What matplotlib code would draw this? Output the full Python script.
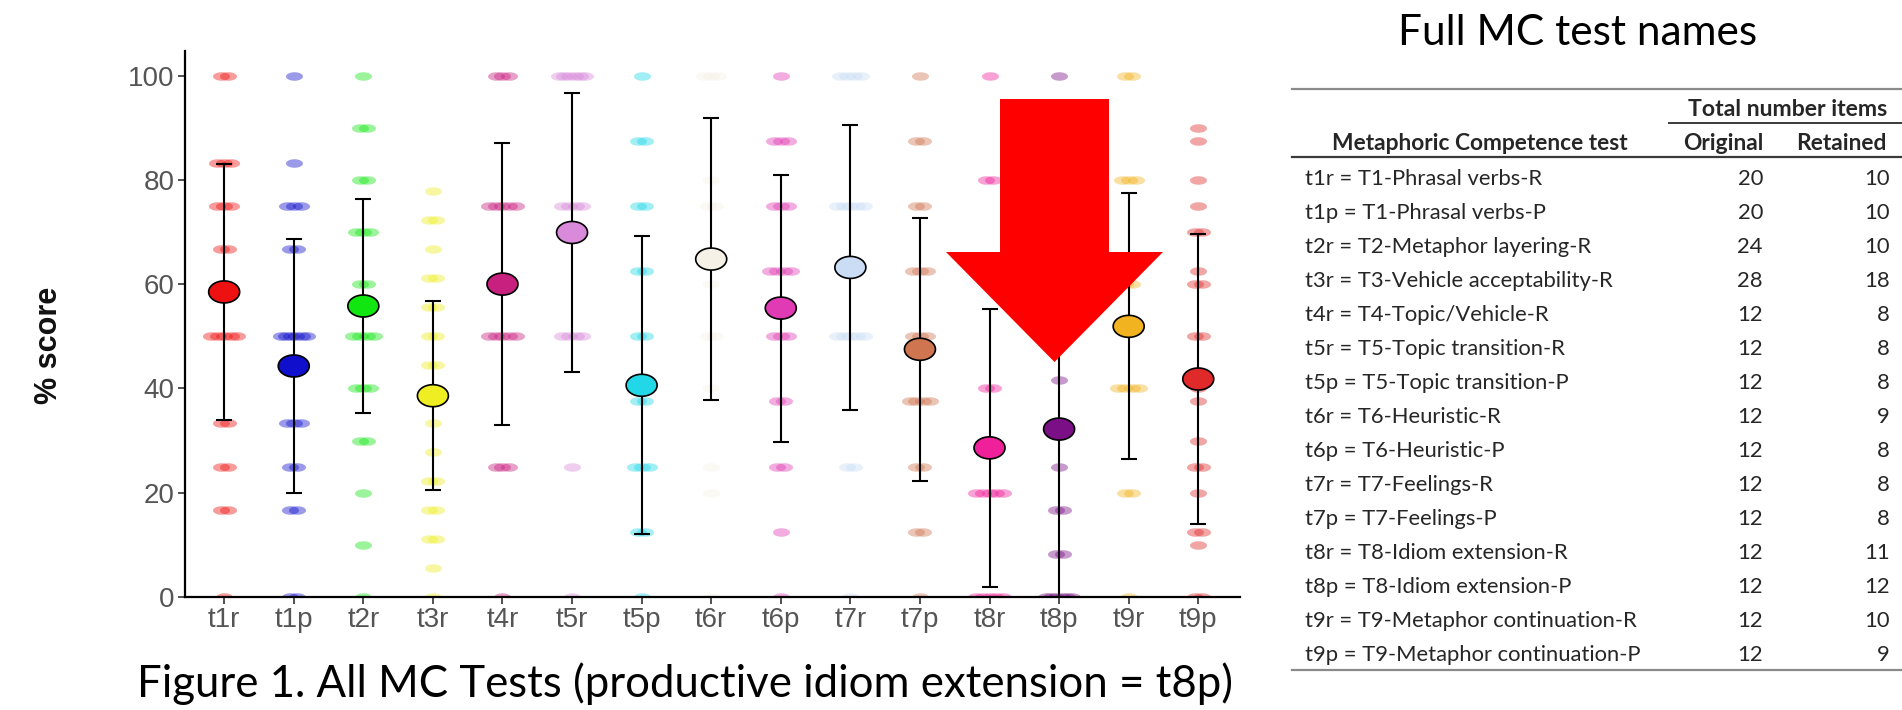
import numpy as np
import matplotlib
matplotlib.use("Agg")
import matplotlib.pyplot as plt
from matplotlib.path import Path
from matplotlib.patches import FancyArrow
from matplotlib.lines import Line2D

# ---------------- data ----------------
tests = ['t1r', 't1p', 't2r', 't3r', 't4r', 't5r', 't5p', 't6r',
         't6p', 't7r', 't7p', 't8r', 't8p', 't9r', 't9p']
mean_score = [58.5, 44.3, 55.8, 38.6, 60.0, 69.9, 40.6, 64.8,
              55.4, 63.2, 47.5, 28.6, 32.2, 51.9, 41.8]
sd_score = [24.6, 24.3, 20.6, 18.1, 27.1, 26.8, 28.6, 27.1,
            25.6, 27.4, 25.2, 26.6, 33.0, 25.5, 27.8]

# individual score levels observed per test and how many participants at each level
dot_levels = [
    [100, 83.3, 75, 66.7, 50, 33.3, 25, 16.7, 0],
    [100, 83.3, 75, 66.7, 50, 33.3, 25, 16.7, 0],
    [100, 90, 80, 70, 60, 50, 40, 30, 20, 10, 0],
    [77.8, 72.2, 66.7, 61.1, 55.6, 50, 44.4, 38.9, 33.3, 27.8, 22.2, 16.7, 11.1, 5.6, 0],
    [100, 75, 50, 25, 0],
    [100, 75, 50, 25, 0],
    [100, 87.5, 75, 62.5, 50, 37.5, 25, 12.5, 0],
    [100, 80, 75, 60, 50, 40, 25, 20, 0],
    [100, 87.5, 75, 62.5, 50, 37.5, 25, 12.5, 0],
    [100, 75, 50, 25, 0],
    [100, 87.5, 75, 62.5, 50, 37.5, 25, 12.5, 0],
    [100, 80, 40, 20, 0],
    [100, 41.7, 25, 16.7, 8.3, 0],
    [100, 80, 60, 40, 20, 0],
    [90, 87.5, 80, 75, 70, 62.5, 60, 50, 40, 37.5, 30, 25, 20, 12.5, 10, 0],
]
dot_counts = [
    [2, 3, 3, 2, 5, 2, 2, 2, 1],
    [1, 1, 3, 2, 6, 3, 2, 2, 2],
    [1, 2, 2, 3, 2, 4, 3, 2, 1, 1, 1],
    [1, 2, 1, 2, 2, 2, 2, 2, 1, 1, 2, 2, 2, 1, 1],
    [3, 5, 5, 3, 1],
    [6, 4, 4, 1, 1],
    [1, 2, 2, 2, 2, 2, 3, 2, 1],
    [3, 1, 2, 1, 2, 1, 1, 1, 1],
    [1, 3, 3, 4, 3, 2, 2, 1, 1],
    [4, 5, 5, 2, 1],
    [1, 2, 2, 3, 3, 4, 2, 2, 1],
    [1, 2, 2, 5, 5],
    [1, 1, 1, 2, 2, 6],
    [2, 3, 2, 4, 2, 1],
    [1, 1, 1, 1, 2, 1, 2, 2, 1, 1, 1, 2, 1, 2, 1, 2],
]
test_colors = ['#EE1111', '#1010CC', '#11E611', '#EEEE22', '#C8207F', '#D98ADB',
               '#22D8E8', '#F6F1E6', '#E03AB4', '#CADDF4', '#CF7550', '#F0209A',
               '#7A0F86', '#F2B320', '#E02A2A']

# table
test_names = ['t1r = T1-Phrasal verbs-R', 't1p = T1-Phrasal verbs-P',
              't2r = T2-Metaphor layering-R', 't3r = T3-Vehicle acceptability-R',
              't4r = T4-Topic/Vehicle-R', 't5r = T5-Topic transition-R',
              't5p = T5-Topic transition-P', 't6r = T6-Heuristic-R',
              't6p = T6-Heuristic-P', 't7r = T7-Feelings-R', 't7p = T7-Feelings-P',
              't8r = T8-Idiom extension-R', 't8p = T8-Idiom extension-P',
              't9r = T9-Metaphor continuation-R', 't9p = T9-Metaphor continuation-P']
items_original = [20, 20, 24, 28, 12, 12, 12, 12, 12, 12, 12, 12, 12, 12, 12]
items_retained = [10, 10, 10, 18, 8, 8, 8, 9, 8, 8, 8, 11, 12, 10, 9]

y_ticks = [0, 20, 40, 60, 80, 100]

# ---------------- figure ----------------
W, H = 1902, 710
fig = plt.figure(figsize=(W / 100, H / 100), dpi=100)


def fx(px):
    return px / W


def fy(py):
    return 1 - py / H


ax = fig.add_axes([fx(184.5), fy(597), (1240 - 184.5) / W, (597 - 51) / H])


def ellipse_marker(ry):
    t = np.linspace(0, 2 * np.pi, 41)
    verts = np.column_stack([np.cos(t), ry * np.sin(t)])
    return Path(verts, closed=True)


dot_marker = ellipse_marker(0.5)
mean_marker = ellipse_marker(0.71)

xpos = np.arange(len(tests))
for i, (lv, ct, col) in enumerate(zip(dot_levels, dot_counts, test_colors)):
    xs, ys = [], []
    for v, n in zip(lv, ct):
        half = min(0.05 * (n - 1), 0.19)
        offs = np.linspace(-half, half, n) if n > 1 else np.array([0.0])
        xs.extend(xpos[i] + offs)
        ys.extend([v] * n)
    ax.scatter(xs, ys, s=150, marker=dot_marker, color=col, alpha=0.42,
               linewidths=0, zorder=2)

ax.errorbar(xpos, mean_score, yerr=sd_score, fmt='none', ecolor='black',
            elinewidth=1.5, capsize=5.5, capthick=1.5, zorder=3)
ax.scatter(xpos, mean_score, s=500, marker=mean_marker, c=test_colors,
           edgecolors='black', linewidths=1.2, zorder=4)

ax.set_xlim(-0.57, 14.6)
ax.set_ylim(0, 104.7)
ax.set_xticks(xpos)
ax.set_xticklabels(tests)
ax.set_yticks(y_ticks)
ax.set_yticklabels([str(v) for v in y_ticks])
for s in ['top', 'right']:
    ax.spines[s].set_visible(False)
for s in ['left', 'bottom']:
    ax.spines[s].set_linewidth(1.6)
    ax.spines[s].set_color('black')
ax.tick_params(length=5, width=1.2, color='#333333', labelcolor='#555555',
               labelsize=20, pad=2)
for lab in ax.get_xticklabels() + ax.get_yticklabels():
    lab.set_fontfamily('Liberation Sans')
ax.set_ylabel('% score', fontsize=22, fontweight='bold', family='Liberation Sans',
              color='#111111')
ax.yaxis.set_label_coords((64 - 184.5) / (1240 - 184.5), (597 - 345) / (597 - 51))

# caption and title
cap_font = ['Lato', 'DejaVu Sans']
fig.text(fx(137), fy(697), 'Figure 1. All MC Tests (productive idiom extension = t8p)',
         fontsize=31.5, family=cap_font, ha='left', va='baseline', color='black')
fig.text(fx(1398), fy(45), 'Full MC test names', fontsize=30.5, family=cap_font,
         ha='left', va='baseline', color='black')

# big red arrow
arrow = FancyArrow(fx(1054.5), fy(99), 0, fy(362) - fy(99),
                   width=109 / W, head_width=217 / W, head_length=(362 - 252) / H,
                   length_includes_head=True, color='#FF0000', linewidth=0,
                   transform=fig.transFigure, zorder=10)
fig.add_artist(arrow)

# table
tcol = '#262626'
tfs = 15.8
x_left, x_right = 1292, 1902
for yy, c in [(89, '#8a8a8a'), (157, '#3a3a3a'), (670, '#8a8a8a')]:
    fig.add_artist(Line2D([fx(x_left), fx(x_right)], [fy(yy), fy(yy)],
                          transform=fig.transFigure, color=c, lw=1.6))
fig.add_artist(Line2D([fx(1669), fx(x_right)], [fy(123), fy(123)],
                      transform=fig.transFigure, color='#3a3a3a', lw=1.4))
fig.text(fx(1887), fy(109), 'Total number items', fontsize=tfs + 0.8, fontweight='bold',
         family=cap_font, ha='right', va='center', color=tcol)
fig.text(fx(1480), fy(143), 'Metaphoric Competence test', fontsize=tfs + 0.6,
         fontweight='bold', family=cap_font, ha='center', va='center', color=tcol)
fig.text(fx(1763), fy(143), 'Original', fontsize=tfs + 0.6, fontweight='bold',
         family=cap_font, ha='right', va='center', color=tcol)
fig.text(fx(1886), fy(143), 'Retained', fontsize=tfs + 0.6, fontweight='bold',
         family=cap_font, ha='right', va='center', color=tcol)
for k, (nm, o, r) in enumerate(zip(test_names, items_original, items_retained)):
    yy = 179 + 34 * k
    fig.text(fx(1305), fy(yy), nm, fontsize=tfs, family=cap_font, ha='left',
             va='center', color=tcol)
    fig.text(fx(1763), fy(yy), str(o), fontsize=tfs, family=cap_font, ha='right',
             va='center', color=tcol)
    fig.text(fx(1890), fy(yy), str(r), fontsize=tfs, family=cap_font, ha='right',
             va='center', color=tcol)

fig.savefig('out.png', dpi=100)
